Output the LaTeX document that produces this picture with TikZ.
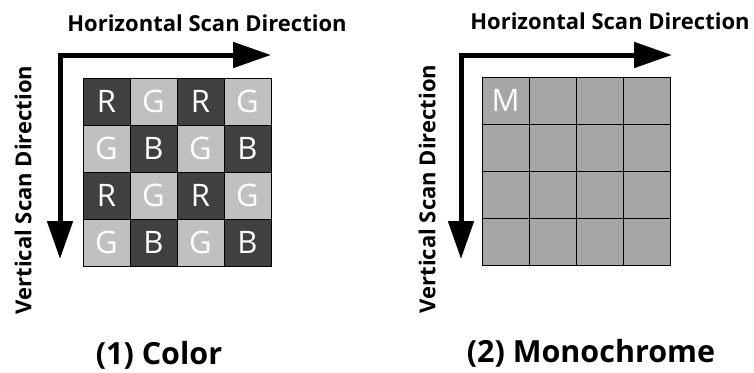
\documentclass[tikz,border=0pt]{standalone}
\usepackage{fontspec}
\setmainfont{Open Sans}
\usetikzlibrary{arrows.meta}
\definecolor{darkcell}{HTML}{404040}
\definecolor{lightcell}{HTML}{C0C0C0}
\definecolor{monocell}{HTML}{A6A6A6}
\tikzset{
  scanarrow/.style={line width=5pt, line join=miter, {Triangle[length=38pt,width=25pt]}-{Triangle[length=38pt,width=25pt]}},
  lbl/.style={font=\fontsize{22}{26}\selectfont\bfseries, inner sep=0pt},
  captionlbl/.style={font=\fontsize{30.5}{34}\selectfont\bfseries, inner sep=0pt},
  cell/.style={draw=black, line width=0.8pt, minimum size=47pt, inner sep=0pt, text=white, font=\fontsize{31}{34}\selectfont},
  dk/.style={cell, fill=darkcell},
  lt/.style={cell, fill=lightcell},
  mn/.style={cell, fill=monocell}
}
\begin{document}
\begin{tikzpicture}[x=1pt,y=-1pt]
\useasboundingbox (0,0) rectangle (754,372);
% ---- left panel
\coordinate (lc) at (60,55);
\coordinate (lh) at (271,55);
\coordinate (lv) at (60,259);
\draw[scanarrow] (lh) -- (lc) -- (lv);
\node[lbl] (lht) at (207,23) {Horizontal Scan Direction};
\node[lbl, rotate=90] (lvt) at (23,190) {Vertical Scan Direction};
\foreach \r/\row in {0/{R/dk,G/lt,R/dk,G/lt},1/{G/lt,B/dk,G/lt,B/dk},2/{R/dk,G/lt,R/dk,G/lt},3/{G/lt,B/dk,G/lt,B/dk}}{
  \foreach \l/\st [count=\c from 0] in \row {
    \node[\st] (L\r\c) at (106.5+47*\c,101.5+47*\r) {\l};
  }
}
\node[captionlbl] (lcap) at (159,355) {(1) Color};
% ---- right panel
\coordinate (rc) at (461,55);
\coordinate (rh) at (672,55);
\coordinate (rv) at (461,259);
\draw[scanarrow] (rh) -- (rc) -- (rv);
\node[lbl] (rht) at (610,21) {Horizontal Scan Direction};
\node[lbl, rotate=90] (rvt) at (427,189) {Vertical Scan Direction};
\foreach \r in {0,...,3}{
  \foreach \c in {0,...,3}{
    \node[mn] (M\r\c) at (505.5+47*\c,100.5+47*\r) {};
  }
}
\node[font=\fontsize{31}{34}\selectfont, text=white, inner sep=0pt] (mlet) at (M00) {M};
\node[captionlbl] (rcap) at (591,353) {(2) Monochrome};
\end{tikzpicture}
\end{document}
